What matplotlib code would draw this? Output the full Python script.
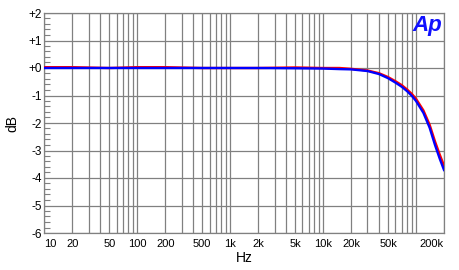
import numpy as np
import matplotlib
matplotlib.use("Agg")
import matplotlib.pyplot as plt
from matplotlib.ticker import FixedLocator, NullFormatter

# frequency response
FREQ = [10, 20, 50, 100, 200, 500, 1000, 2000, 5000, 10000, 15000, 20000,
        30000, 40000, 50000, 60000, 70000, 80000, 90000, 100000, 120000,
        140000, 160000, 180000, 200000]
BLUE_DB = [0.0, 0.0, 0.0, 0.0, 0.0, 0.0, 0.0, 0.0, -0.01, -0.02, -0.04, -0.05,
           -0.11, -0.22, -0.37, -0.53, -0.68, -0.84, -1.01, -1.2, -1.63,
           -2.17, -2.8, -3.3, -3.71]
RED_DB = [0.03, 0.03, 0.0, 0.03, 0.03, 0.0, 0.0, 0.0, 0.02, 0.0, 0.0, -0.03,
          -0.09, -0.19, -0.33, -0.48, -0.62, -0.78, -0.94, -1.12, -1.54,
          -2.06, -2.67, -3.15, -3.55]

XTICKS = [10, 20, 50, 100, 200, 500, 1000, 2000, 5000, 10000, 20000, 50000, 200000]
XLABELS = ["10", "20", "50", "100", "200", "500", "1k", "2k", "5k", "10k",
           "20k", "50k", "200k"]
YTICKS = [2, 1, 0, -1, -2, -3, -4, -5, -6]
YLABELS = ["+2", "+1", "+0", "-1", "-2", "-3", "-4", "-5", "-6"]

GRID = "#808080"
plt.rcParams["font.family"] = ["Liberation Sans", "DejaVu Sans"]

fig = plt.figure(figsize=(4.6, 2.7), dpi=100)
ax = fig.add_axes([44.3 / 460, 1 - 233 / 270, (444 - 44.3) / 460, (233 - 13) / 270])

ax.set_xscale("log")
ax.set_xlim(10, 200000)
ax.set_ylim(-6, 2)

# vertical grid at every 1..9 multiple
vgrid = [m * 10 ** e for e in range(1, 6) for m in range(1, 10) if m * 10 ** e <= 200000]
for v in vgrid:
    ax.axvline(v, color=GRID, lw=0.9, zorder=1)
for t in YTICKS:
    ax.axhline(t, color=GRID, lw=0.9, zorder=1)

ax.plot(FREQ, RED_DB, color="#ff0000", lw=1.7, zorder=3)
ax.plot(FREQ, BLUE_DB, color="#0000ff", lw=1.7, zorder=4)

ax.xaxis.set_major_locator(FixedLocator(XTICKS))
ax.xaxis.set_minor_locator(FixedLocator([]))
ax.xaxis.set_minor_formatter(NullFormatter())
ax.set_xticklabels(XLABELS)
ax.tick_params(axis="x", which="both", length=0, pad=4, labelsize=8)
labels = ax.get_xticklabels()
labels[0].set_ha("left")
labels[-1].set_ha("right")

ax.set_yticks(YTICKS)
ax.set_yticklabels(YLABELS)
ax.yaxis.set_minor_locator(FixedLocator(np.arange(-6, 2.01, 0.2)))
ax.tick_params(axis="y", which="major", length=0, pad=2, labelsize=8.5)
ax.tick_params(axis="y", which="minor", direction="in", length=4, width=0.8, color=GRID)

for s in ax.spines.values():
    s.set_color(GRID)
    s.set_linewidth(0.9)

ax.set_xlabel("Hz", fontsize=10, labelpad=2)
ax.set_ylabel("dB", fontsize=10, labelpad=6)

ax.text(0.995, 0.99, "Ap", transform=ax.transAxes, ha="right", va="top",
        color="#1010ff", fontsize=16, fontweight="bold", fontstyle="italic", zorder=5)

fig.savefig("out.png", dpi=100, facecolor="white")
